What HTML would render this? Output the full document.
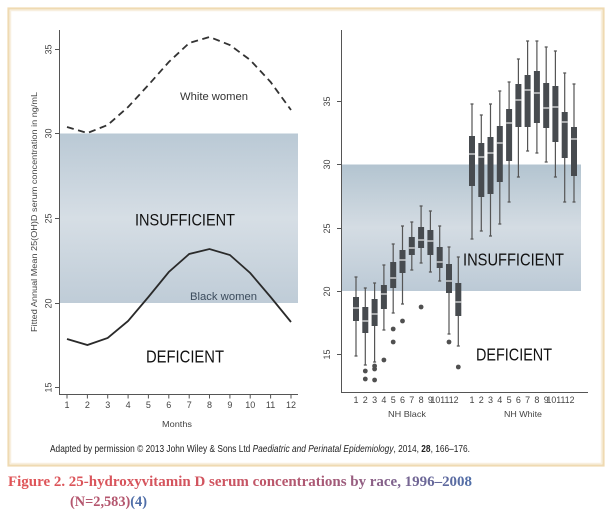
<!DOCTYPE html>
<html><head><meta charset="utf-8"><style>
html,body{margin:0;padding:0;background:#fff;}
svg{display:block;}
</style></head><body>
<svg width="616" height="511" viewBox="0 0 616 511" xmlns="http://www.w3.org/2000/svg" font-family="'Liberation Sans', Arial, sans-serif">
<defs>
<linearGradient id="band" x1="0" y1="0" x2="0" y2="1">
<stop offset="0" stop-color="#bac9d5"/>
<stop offset="0.5" stop-color="#d6dee5"/>
<stop offset="1" stop-color="#bfccd7"/>
</linearGradient>
<linearGradient id="band2" x1="0" y1="0" x2="0" y2="1">
<stop offset="0" stop-color="#b3c4d0"/>
<stop offset="0.5" stop-color="#d4dce3"/>
<stop offset="1" stop-color="#bccad6"/>
</linearGradient>
<linearGradient id="title" gradientUnits="userSpaceOnUse" x1="8" y1="0" x2="472" y2="0">
<stop offset="0" stop-color="#e05558"/>
<stop offset="0.45" stop-color="#d0545f"/>
<stop offset="0.7" stop-color="#a45a78"/>
<stop offset="1" stop-color="#4f6ea8"/>
</linearGradient>
</defs>
<!-- frame -->
<rect x="8.5" y="8.5" width="595" height="457" fill="#fff" stroke="#efdab2" stroke-width="2.2"/>
<rect x="10.5" y="10.5" width="591" height="453" fill="none" stroke="#f8efdf" stroke-width="1.5"/>

<!-- LEFT CHART -->
<rect x="59.5" y="133.5" width="238.5" height="169.5" fill="url(#band)"/>
<g stroke="#555" stroke-width="1" fill="none">
<path d="M59.5 30V394.5H298"/>
<path d="M55 49.5h4.5M55 133.5h4.5M55 218.5h4.5M55 303.5h4.5M55 387.5h4.5"/>
<path d="M67 394.5v4M87.4 394.5v4M107.7 394.5v4M128.1 394.5v4M148.4 394.5v4M168.8 394.5v4M189.2 394.5v4M209.5 394.5v4M229.9 394.5v4M250.2 394.5v4M270.6 394.5v4M291 394.5v4"/>
</g>
<g font-size="9" fill="#444" text-anchor="middle">
<text transform="translate(51.5,49.5) rotate(-90)">35</text>
<text transform="translate(51.5,133.5) rotate(-90)">30</text>
<text transform="translate(51.5,218.5) rotate(-90)">25</text>
<text transform="translate(51.5,303.5) rotate(-90)">20</text>
<text transform="translate(51.5,387.5) rotate(-90)">15</text>
<text x="67" y="408">1</text><text x="87.4" y="408">2</text><text x="107.7" y="408">3</text><text x="128.1" y="408">4</text><text x="148.4" y="408">5</text><text x="168.8" y="408">6</text><text x="189.2" y="408">7</text><text x="209.5" y="408">8</text><text x="229.9" y="408">9</text><text x="250.2" y="408">10</text><text x="270.6" y="408">11</text><text x="291" y="408">12</text>
</g>
<text transform="translate(37,212) rotate(-90)" font-size="8.5" fill="#444" text-anchor="middle" textLength="240" lengthAdjust="spacingAndGlyphs">Fitted Annual Mean 25(OH)D serum concentration in ng/mL</text>
<text x="162" y="427" font-size="8.5" fill="#444" textLength="30" lengthAdjust="spacingAndGlyphs">Months</text>

<polyline points="67,127 87.4,133 107.7,125 128.1,107 148.4,85 168.8,62 189.2,43 209.5,37 229.9,45 250.2,60 270.6,82 291,110" fill="none" stroke="#333" stroke-width="1.8" stroke-dasharray="7,4.5"/>
<polyline points="67,339 87.4,345 107.7,338 128.1,321 148.4,297 168.8,272 189.2,254 209.5,249 229.9,255 250.2,273 270.6,297 291,322" fill="none" stroke="#2a2a2a" stroke-width="1.8"/>

<text x="180" y="100" font-size="11" fill="#333" textLength="68" lengthAdjust="spacingAndGlyphs">White women</text>
<text x="190" y="300" font-size="11" fill="#3b4b5c" textLength="67" lengthAdjust="spacingAndGlyphs">Black women</text>
<text x="135" y="225.5" font-size="17" fill="#111" textLength="100" lengthAdjust="spacingAndGlyphs">INSUFFICIENT</text>
<text x="146" y="362.5" font-size="17.5" fill="#111" textLength="78" lengthAdjust="spacingAndGlyphs">DEFICIENT</text>

<!-- RIGHT CHART -->
<rect x="341.5" y="164.5" width="239.5" height="126.5" fill="url(#band2)"/>
<g stroke="#555" stroke-width="1" fill="none">
<path d="M341.5 30V392.5H588"/>
<path d="M337 101.5h4.5M337 164.5h4.5M337 228.5h4.5M337 291.5h4.5M337 354.5h4.5"/>
</g>
<g font-size="9" fill="#444" text-anchor="middle">
<text transform="translate(330,101.5) rotate(-90)">35</text>
<text transform="translate(330,164.5) rotate(-90)">30</text>
<text transform="translate(330,228.5) rotate(-90)">25</text>
<text transform="translate(330,291.5) rotate(-90)">20</text>
<text transform="translate(330,354.5) rotate(-90)">15</text>
</g>
<g font-size="9" fill="#444" text-anchor="middle">
<text x="356" y="403">1</text><text x="365.3" y="403">2</text><text x="374.6" y="403">3</text><text x="383.9" y="403">4</text><text x="393.2" y="403">5</text><text x="402.5" y="403">6</text><text x="411.8" y="403">7</text><text x="421.1" y="403">8</text><text x="430.4" y="403">9</text>
<text x="444.5" y="403" textLength="28" lengthAdjust="spacingAndGlyphs">101112</text>
<text x="472" y="403">1</text><text x="481.3" y="403">2</text><text x="490.5" y="403">3</text><text x="499.8" y="403">4</text><text x="509.1" y="403">5</text><text x="518.4" y="403">6</text><text x="527.6" y="403">7</text><text x="536.9" y="403">8</text><text x="546.2" y="403">9</text>
<text x="560.5" y="403" textLength="28" lengthAdjust="spacingAndGlyphs">101112</text>
</g>
<text x="388" y="417" font-size="8.5" fill="#444" textLength="38" lengthAdjust="spacingAndGlyphs">NH Black</text>
<text x="504" y="417" font-size="8.5" fill="#444" textLength="38" lengthAdjust="spacingAndGlyphs">NH White</text>

<!-- whiskers -->
<g stroke="#555" stroke-width="1.2" fill="none">
<path d="M356 277V356M354.5 277h3M354.5 356h3"/>
<path d="M365.3 288V365M363.8 288h3M363.8 365h3"/>
<path d="M374.6 283V362M373.1 283h3M373.1 362h3"/>
<path d="M383.9 265V330M382.4 265h3M382.4 330h3"/>
<path d="M393.2 244V313M391.7 244h3M391.7 313h3"/>
<path d="M402.5 226V304M401 226h3M401 304h3"/>
<path d="M411.8 222V270M410.3 222h3M410.3 270h3"/>
<path d="M421.1 206V263M419.6 206h3M419.6 263h3"/>
<path d="M430.4 211V272M428.9 211h3M428.9 272h3"/>
<path d="M439.7 226V281M438.2 226h3M438.2 281h3"/>
<path d="M449 247V334M447.5 247h3M447.5 334h3"/>
<path d="M458.3 257V346M456.8 257h3M456.8 346h3"/>
<path d="M472 104V239M470.5 104h3M470.5 239h3"/>
<path d="M481.3 115V231M479.8 115h3M479.8 231h3"/>
<path d="M490.5 104V236M489 104h3M489 236h3"/>
<path d="M499.8 91V224M498.3 91h3M498.3 224h3"/>
<path d="M509.1 82V202M507.6 82h3M507.6 202h3"/>
<path d="M518.4 59V177M516.9 59h3M516.9 177h3"/>
<path d="M527.6 41V151M526.1 41h3M526.1 151h3"/>
<path d="M536.9 41V153M535.4 41h3M535.4 153h3"/>
<path d="M546.2 47V162M544.7 47h3M544.7 162h3"/>
<path d="M555.4 51V177M553.9 51h3M553.9 177h3"/>
<path d="M564.7 73V202M563.2 73h3M563.2 202h3"/>
<path d="M574 84V202M572.5 84h3M572.5 202h3"/>
</g>
<!-- boxes -->
<g fill="#474b4f">
<rect x="353" y="297" width="6" height="24"/>
<rect x="362.3" y="307" width="6" height="26"/>
<rect x="371.6" y="299" width="6" height="27"/>
<rect x="380.9" y="285" width="6" height="24"/>
<rect x="390.2" y="262" width="6" height="26"/>
<rect x="399.5" y="250" width="6" height="23"/>
<rect x="408.8" y="237" width="6" height="18"/>
<rect x="418.1" y="227" width="6" height="21"/>
<rect x="427.4" y="230" width="6" height="25"/>
<rect x="436.7" y="247" width="6" height="21"/>
<rect x="446" y="264" width="6" height="29"/>
<rect x="455.3" y="283" width="6" height="33"/>
<rect x="469" y="136" width="6" height="50"/>
<rect x="478.3" y="143" width="6" height="54"/>
<rect x="487.5" y="137" width="6" height="57"/>
<rect x="496.8" y="126" width="6" height="56"/>
<rect x="506.1" y="109" width="6" height="52"/>
<rect x="515.4" y="84" width="6" height="43"/>
<rect x="524.6" y="75" width="6" height="52"/>
<rect x="533.9" y="71" width="6" height="52"/>
<rect x="543.2" y="83" width="6" height="45"/>
<rect x="552.4" y="86" width="6" height="56"/>
<rect x="561.7" y="112" width="6" height="46"/>
<rect x="571" y="127" width="6" height="49"/>
</g>
<!-- medians -->
<g stroke="#e6e6e6" stroke-width="1.2">
<path d="M353 308h6M362.3 321h6M371.6 314h6M380.9 294h6M390.2 278h6M399.5 260h6M408.8 248h6M418.1 240h6M427.4 241h6M436.7 262h6M446 281h6M455.3 302h6"/>
<path d="M469 154h6M478.3 157h6M487.5 153h6M496.8 143h6M506.1 123h6M515.4 100h6M524.6 90h6M533.9 93h6M543.2 108h6M552.4 107h6M561.7 122h6M571 139h6"/>
</g>
<!-- outliers -->
<g fill="#505050">
<circle cx="365.3" cy="371" r="2.4"/><circle cx="365.3" cy="379" r="2.4"/>
<circle cx="374.6" cy="366" r="2.4"/><circle cx="374.6" cy="369" r="2.4"/><circle cx="374.6" cy="380" r="2.4"/>
<circle cx="383.9" cy="360" r="2.4"/>
<circle cx="393.2" cy="329" r="2.4"/><circle cx="393.2" cy="342" r="2.4"/>
<circle cx="402.5" cy="321" r="2.4"/>
<circle cx="421.1" cy="307" r="2.4"/>
<circle cx="449" cy="342" r="2.4"/>
<circle cx="458.3" cy="367" r="2.4"/>
</g>
<text x="463" y="265.5" font-size="17.5" fill="#111" textLength="101" lengthAdjust="spacingAndGlyphs">INSUFFICIENT</text>
<text x="476" y="360.5" font-size="17.5" fill="#111" textLength="76" lengthAdjust="spacingAndGlyphs">DEFICIENT</text>

<!-- caption -->
<text x="50" y="452" font-size="10.5" fill="#222" textLength="420" lengthAdjust="spacingAndGlyphs">Adapted by permission © 2013 John Wiley &amp; Sons Ltd <tspan font-style="italic">Paediatric and Perinatal Epidemiology</tspan>, 2014, <tspan font-weight="bold">28</tspan>, 166–176.</text>

<!-- figure title -->
<text x="8" y="486" font-family="'Liberation Serif', 'Times New Roman', serif" font-weight="bold" font-size="15" fill="url(#title)" textLength="464" lengthAdjust="spacingAndGlyphs">Figure 2. 25-hydroxyvitamin D serum concentrations by race, 1996–2008</text>
<text x="70" y="506" font-family="'Liberation Serif', 'Times New Roman', serif" font-weight="bold" font-size="15" textLength="77" lengthAdjust="spacingAndGlyphs"><tspan fill="#b4566e">(N=2,583)</tspan><tspan fill="#4f6ea8">(4)</tspan></text>
</svg>
</body></html>
